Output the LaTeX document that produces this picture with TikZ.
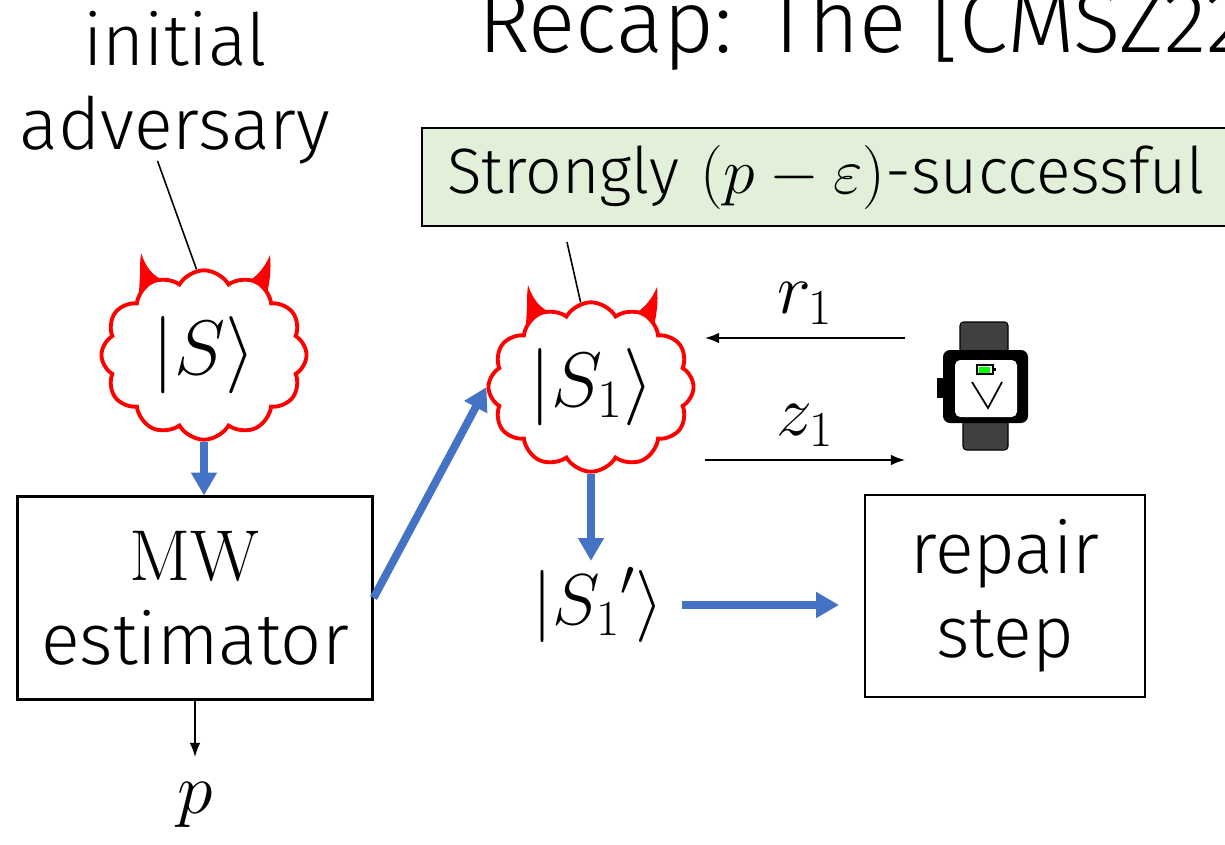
\documentclass[tikz,border=0pt]{standalone}
\usepackage{fix-cm}
\usepackage{amsmath,amssymb}
\usepackage[no-math]{fontspec}
\setmainfont{Fira Sans}[UprightFont=* Light]
\usepackage{tikz}
\usetikzlibrary{shapes.symbols, arrows.meta, positioning, backgrounds}
\definecolor{flowColor}{RGB}{68, 114, 196}
\definecolor{boxColor}{RGB}{226, 240, 217}
\definecolor{strapColor}{RGB}{64, 64, 64}

\tikzset{horns/.pic={
    \fill[red] (-66,-45) -- (-64,-80) .. controls (-64,-92) .. (-63,-102) .. controls (-56,-82) and (-48,-78) .. (-36,-72) -- cycle;
    \fill[red] (30,-65) .. controls (50,-75) and (60,-85) .. (66,-100) .. controls (68,-80) and (64,-60) .. (56,-40) -- cycle;
}}

\begin{document}
\begin{tikzpicture}[x=0.02cm, y=-0.02cm,
    big/.style={font=\fontsize{41}{48}\selectfont},
    block/.style={rectangle, draw, line width=1.2pt, big, align=center},
    devil/.style={cloud, cloud puffs=12, cloud puff arc=120, aspect=1.3, draw=red, line width=2.2pt, fill=white, text width=2.45cm, align=center, font=\fontsize{44}{50}\selectfont},
    flow/.style={draw=flowColor, line width=4.5pt, -{Triangle[length=13pt, width=14pt]}},
    msg/.style={line width=0.9pt, -{Latex[length=8pt, width=6pt]}}]

    \useasboundingbox (0,0) rectangle (1225,845);
    \clip (0,0) rectangle (1225,845);

    \node (title) [anchor=base west, font=\fontsize{50}{60}\selectfont] at (472,52) {Recap: The [CMSZ22]};
    \node (strong) [rectangle, draw, line width=1.2pt, fill=boxColor, anchor=north west, font=\fontsize{36.5}{40}\selectfont, text width=16.5cm, inner xsep=0.5cm, minimum height=1.96cm, align=left] at (421,127) {Strongly $(p-\varepsilon)$-successful};

    \node (adv) [big, align=center] at (175,88) {initial\\adversary};
    \node (cloudA) [devil] at (204,355) {$|S\rangle$};
    \node (mw) [block, minimum width=7.1cm, minimum height=4.06cm] at (195,598) {$\mathrm{MW}$\\estimator};
    \coordinate (pout) at (195,757);
    \node (p) [big] at (195,805) {$p$};

    \node (cloudB) [devil] at (591,387) {$|S_1\rangle$};
    \node (s1p) [big] at (598,605) {$|{S_1}'\rangle$};
    \node (repair) [block, minimum width=5.6cm, minimum height=4.04cm] at (1005,596) {repair\\step};

    \begin{scope}[on background layer]
        \pic at (cloudA) {horns};
        \pic at (cloudB) {horns};
    \end{scope}

    % watch
    \filldraw[fill=strapColor, line width=0.6pt, rounded corners=2pt] (960,322) rectangle (1008,356);
    \filldraw[fill=strapColor, line width=0.6pt, rounded corners=2pt] (963,418) rectangle (1008,450);
    \fill (937,378) rectangle (946,398);
    \fill[rounded corners=4pt] (943,350) rectangle (1028,423);
    \fill[white, rounded corners=3pt] (955,360) rectangle (1017,417);
    \draw[line width=0.6pt] (977,365) rectangle (993,374);
    \fill (993,368) rectangle (996,371);
    \fill[green] (978.5,366.5) rectangle (990,372.5);
    \draw[line width=1pt] (972,382) -- (988,408) -- (1002,382);

    \coordinate (rfrom) at (905,338);
    \coordinate (rto) at (705,338);
    \coordinate (zfrom) at (705,460);
    \coordinate (zto) at (905,460);
    \draw[msg] (rfrom) -- (rto) node[midway, above=4pt, big] {$r_1$};
    \draw[msg] (zfrom) -- (zto) node[midway, above=4pt, big] {$z_1$};

    \draw[line width=0.9pt] ([xshift=-0.35cm, yshift=0.2cm]adv.south) -- (cloudA.95);
    \draw[line width=0.9pt] ([xshift=2.92cm, yshift=-0.3cm]strong.south west) -- (cloudB.97);

    \draw[flow] (cloudA.south) -- (cloudA.south |- mw.north);
    \draw[flow] (mw.east) -- (cloudB.west);
    \draw[flow] (cloudB.south) -- (cloudB.south |- s1p.north);
    \draw[flow, shorten <=0.25cm, shorten >=0.5cm] (s1p.east) -- (s1p.east -| repair.west);
    \draw[msg] (mw.south) -- (pout);

\end{tikzpicture}
\end{document}
